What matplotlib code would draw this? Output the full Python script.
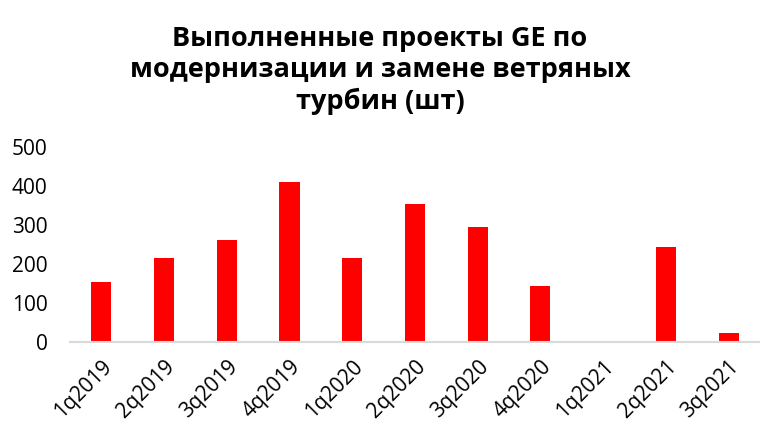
import matplotlib
matplotlib.use("Agg")
import matplotlib.pyplot as plt

# Данные
quarters = ['1q2019', '2q2019', '3q2019', '4q2019', '1q2020', '2q2020',
            '3q2020', '4q2020', '1q2021', '2q2021', '3q2021']
projects = [153, 217, 263, 411, 217, 355, 296, 143, 0, 245, 23]

plt.rcParams['font.family'] = ['Open Sans', 'DejaVu Sans']

fig = plt.figure(figsize=(7.6, 4.42), dpi=100)
ax = fig.add_axes([0.092, 0.226, 0.908, 0.441])

x = range(len(quarters))
ax.bar(x, projects, width=0.32, color='#ff0000')

ax.set_xlim(-0.5, len(quarters) - 0.5)
ax.set_ylim(0, 500)
ax.set_yticks(range(0, 501, 100))
ax.set_xticks(list(x))
ax.set_xticklabels(quarters, rotation=45, ha='right', rotation_mode='anchor')
ax.tick_params(axis='both', length=0, labelsize=15, colors='#000000')
ax.tick_params(axis='x', pad=10)
ax.tick_params(axis='y', pad=16)

for s in ['left', 'right', 'top']:
    ax.spines[s].set_visible(False)
ax.spines['bottom'].set_color('#d9d9d9')
ax.spines['bottom'].set_linewidth(1.5)

fig.text(0.5, 0.84, 'Выполненные проекты GE по\nмодернизации и замене ветряных\nтурбин (шт)',
         ha='center', va='center', fontsize=19.5, fontweight='bold', linespacing=1.25)

fig.savefig('out.png', dpi=100)
